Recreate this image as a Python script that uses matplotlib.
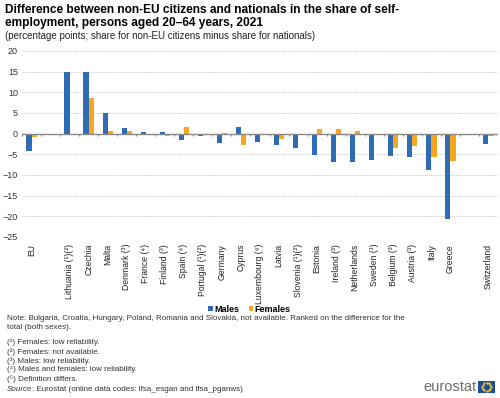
import numpy as np
import matplotlib.pyplot as plt
from matplotlib.patches import Rectangle

plt.rcParams['font.family'] = ['Liberation Sans', 'DejaVu Sans']

# data (percentage points), NaN = not available
countries = ['EU', 'Lithuania (¹)(²)', 'Czechia', 'Malta', 'Denmark (³)', 'France (⁴)',
             'Finland (³)', 'Spain (⁴)', 'Portugal (¹)(²)', 'Germany', 'Cyprus',
             'Luxembourg (⁴)', 'Latvia', 'Slovenia (¹)(²)', 'Estonia', 'Ireland (³)',
             'Netherlands', 'Sweden (¹)', 'Belgium (³)', 'Austria (³)', 'Italy', 'Greece',
             'Switzerland']
males = [-4.3, 15.0, 15.0, 5.0, 1.4, 0.4, 0.3, -1.5, -0.6, -2.3, 1.5,
         -2.1, -2.8, -3.6, -5.3, -7.0, -6.8, -6.4, -5.5, -5.7, -8.9, -20.6,
         -2.6]
females = [-0.8, np.nan, 8.5, 0.6, 0.5, -0.2, -0.7, 1.5, np.nan, 0.2, -2.7,
           np.nan, -1.2, np.nan, 1.0, 1.2, 0.7, np.nan, -3.6, -2.9, -5.7, -6.7,
           -0.5]

blue = '#2c6db5'
orange = '#f9a51e'
txt = '#333333'

# gap after EU and before Switzerland
pos = np.arange(len(countries), dtype=float)
pos[1:] += 1
pos[-1] += 1
nslots = int(pos[-1]) + 1

fig = plt.figure(figsize=(5, 3.98), dpi=100)
ax = fig.add_axes([0.044, 0.405, 0.952, 0.467])

w = 0.27
ax.bar(pos - w / 2, males, w, color=blue, label='Males', zorder=3)
ax.bar(pos + w / 2, females, w, color=orange, label='Females', zorder=3)

ax.set_xlim(-0.5, nslots - 0.5)
ax.set_ylim(-25, 20)
ax.set_yticks(np.arange(-25, 21, 5))
ax.yaxis.grid(True, color='#cccccc', linestyle=(0, (1, 1)), linewidth=0.7, zorder=0)
ax.axhline(0, color='#888888', linewidth=1, zorder=4)
bounds = np.arange(-0.5, nslots - 0.4, 1)
ax.vlines(bounds, -0.6, 0, color='#888888', linewidth=0.8, zorder=4)

for s in ax.spines.values():
    s.set_visible(False)
ax.tick_params(axis='y', length=0, labelsize=6.5, labelcolor=txt, pad=3)
ax.set_xticks(pos)
ax.set_xticklabels(countries, rotation=90, fontsize=6.2, va='top', ha='center')
ax.tick_params(axis='x', length=0, pad=5, labelcolor='#222222')

ax.legend(loc='center', bbox_to_anchor=(0.5 - 0.044 / 2, -0.39), ncol=2,
          frameon=False, handlelength=0.5, handleheight=0.5,
          handletextpad=0.2, columnspacing=1.0, prop={'weight': 'bold', 'size': 6.5})

fig.text(0.01, 0.99, 'Difference between non-EU citizens and nationals in the share of self-\n'
         'employment, persons aged 20–64 years, 2021', fontsize=8.6, fontweight='bold',
         va='top', ha='left', linespacing=1.15)
fig.text(0.01, 0.922, '(percentage points; share for non-EU citizens minus share for nationals)',
         fontsize=7, va='top', ha='left', color='#222222')

note = ('Note: Bulgaria, Croatia, Hungary, Poland, Romania and Slovakia, not available. '
        'Ranked on the difference for the\ntotal (both sexes).')
fig.text(0.014, 0.208, note, fontsize=5.75, va='top', ha='left', color=txt, linespacing=1.3)
foot = ['(¹) Females: low reliability.', '(²) Females: not available.', '(³) Males: low reliability.',
        '(⁴) Males and females: low reliability.', '(⁵) Definition differs.']
for i, t in enumerate(foot):
    fig.text(0.014, 0.149 - i * 0.0231, t, fontsize=5.75, va='top', ha='left', color=txt)

src = fig.text(0.014, 0.031, 'Source', fontsize=5.75, va='top', ha='left', color=txt, style='italic')
r = fig.canvas.get_renderer()
bb = src.get_window_extent(renderer=r)
x2 = bb.x1 / fig.bbox.width
fig.text(x2, 0.031, ': Eurostat (online data codes: lfsa_esgan and lfsa_pganws)',
         fontsize=5.75, va='top', ha='left', color=txt)

# eurostat logo
fig.text(0.952, 0.027, 'eurostat', fontsize=10.5, color='#6d6d6d', va='center', ha='right')
fig.patches.append(Rectangle((0.956, 0.013), 0.034, 0.03, transform=fig.transFigure,
                             facecolor='#1c4ea0', edgecolor='none'))
ang = np.linspace(0, 2 * np.pi, 12, endpoint=False)
fig.add_artist(plt.Line2D(0.973 + 0.009 * np.cos(ang), 0.028 + 0.0105 * np.sin(ang),
                          transform=fig.transFigure, linestyle='none', marker='o',
                          markersize=0.7, color='#ffcc00'))

fig.savefig('out.png', dpi=100)
